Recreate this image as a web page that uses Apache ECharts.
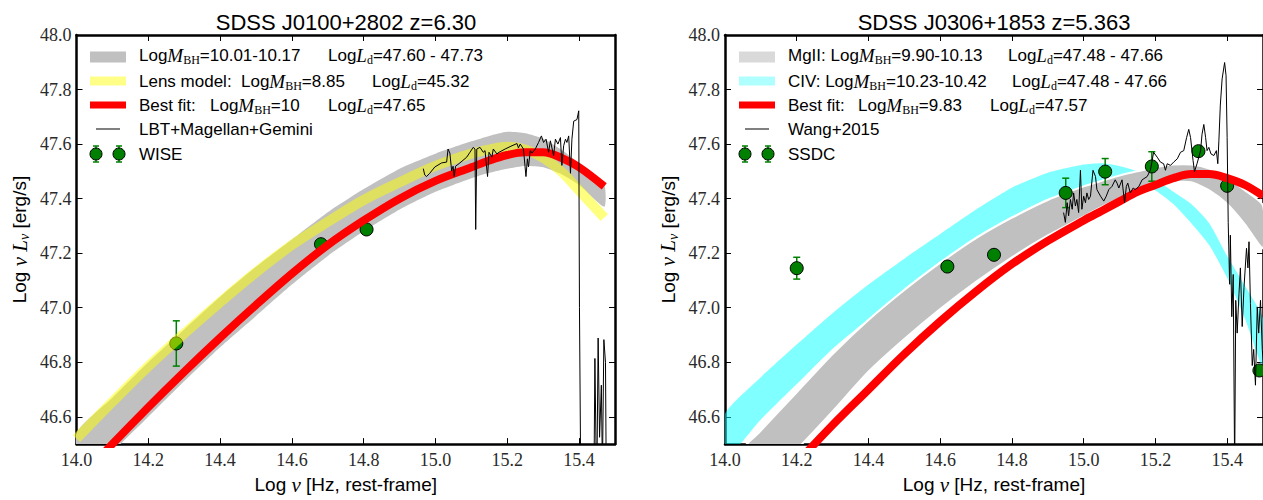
<!DOCTYPE html>
<html><head><meta charset="utf-8">
<script src="https://cdn.jsdelivr.net/npm/echarts@6/dist/echarts.min.js"></script>
<style>html,body{margin:0;padding:0;background:#fff}#c{width:1263px;height:500px}</style>
</head><body><div id="c"></div>
<script>
// ---------- tick labels ----------
const xTicks = [14.0, 14.2, 14.4, 14.6, 14.8, 15.0, 15.2, 15.4];
const yTicks = [46.6, 46.8, 47.0, 47.2, 47.4, 47.6, 47.8, 48.0];

// ---------- left panel: SDSS J0100+2802 ----------
const LX        = [14.0, 14.1, 14.2, 14.3, 14.4, 14.5, 14.6, 14.7, 14.8, 14.9, 15.0, 15.1, 15.15, 15.2, 15.25, 15.3, 15.35, 15.4, 15.47];
const L_grayTop = [46.54, 46.67, 46.80, 46.92, 47.04, 47.15, 47.25, 47.35, 47.435, 47.51, 47.565, 47.61, 47.63, 47.645, 47.64, 47.62, 47.58, 47.53, 47.45];
const L_grayBot = [46.33, 46.47, 46.60, 46.73, 46.855, 46.97, 47.085, 47.19, 47.28, 47.36, 47.425, 47.475, 47.495, 47.51, 47.52, 47.515, 47.49, 47.45, 47.37];
const L_lens    = [46.52, 46.655, 46.785, 46.905, 47.02, 47.13, 47.23, 47.315, 47.395, 47.46, 47.52, 47.565, 47.58, 47.59, 47.58, 47.55, 47.50, 47.43, 47.33];
const L_best    = [46.36, 46.50, 46.635, 46.765, 46.89, 47.01, 47.125, 47.23, 47.32, 47.40, 47.465, 47.515, 47.54, 47.56, 47.57, 47.57, 47.55, 47.515, 47.445];

const L_specX = [14.966,14.970,14.975,14.984,14.998,15.017,15.031,15.035,15.040,15.045,15.049,15.052,15.056,15.068,15.087,15.096,15.105,15.110,15.112,15.115,15.124,15.133,15.138,15.145,15.149,15.157,15.161,15.171,15.177,15.194,15.213,15.227,15.231,15.236,15.245,15.252,15.256,15.259,15.264,15.269,15.278,15.287,15.295,15.301,15.308,15.315,15.320,15.329,15.334,15.341,15.348,15.352,15.357,15.362,15.366,15.371,15.376,15.380,15.385,15.394,15.399,15.401,15.405,15.441,15.444,15.449,15.453,15.457,15.462,15.465,15.469,15.4735,15.476];
const L_specY = [47.510,47.487,47.481,47.493,47.516,47.531,47.534,47.582,47.567,47.502,47.519,47.481,47.519,47.531,47.552,47.570,47.588,47.582,47.287,47.582,47.588,47.570,47.576,47.481,47.570,47.552,47.582,47.564,47.570,47.582,47.594,47.602,47.586,47.600,47.582,47.481,47.546,47.516,47.576,47.567,47.582,47.606,47.630,47.606,47.618,47.570,47.612,47.558,47.618,47.600,47.624,47.522,47.594,47.618,47.606,47.630,47.493,47.618,47.684,47.690,47.722,47.000,46.300,46.300,46.814,46.300,46.889,46.525,46.716,46.400,46.883,46.800,46.300];

const wiseX   = [14.278, 14.681, 14.808];
const wiseY   = [46.869, 47.233, 47.287];
const wiseErr = [0.083, 0, 0];

// ---------- right panel: SDSS J0306+1853 ----------
const RX       = [14.0, 14.1, 14.2, 14.3, 14.4, 14.5, 14.6, 14.7, 14.8, 14.9, 15.0, 15.05, 15.1, 15.15, 15.2, 15.25, 15.3, 15.35, 15.4, 15.45, 15.5];
const R_civTop = [46.61, 46.745, 46.865, 46.98, 47.085, 47.18, 47.27, 47.36, 47.44, 47.495, 47.525, 47.53, 47.52, 47.50, 47.47, 47.425, 47.38, 47.31, 47.19, 47.08, 46.96];
const R_civBot = [46.445, 46.59, 46.72, 46.85, 46.96, 47.07, 47.17, 47.26, 47.335, 47.40, 47.44, 47.455, 47.46, 47.455, 47.43, 47.38, 47.31, 47.23, 47.11, 46.96, 46.78];
const R_mgTop  = [46.41, 46.55, 46.69, 46.83, 46.955, 47.065, 47.165, 47.255, 47.33, 47.395, 47.445, 47.465, 47.485, 47.50, 47.515, 47.525, 47.525, 47.51, 47.475, 47.43, 47.375];
const R_mgBot  = [46.21, 46.35, 46.48, 46.62, 46.765, 46.885, 46.995, 47.095, 47.185, 47.265, 47.335, 47.37, 47.40, 47.425, 47.445, 47.46, 47.46, 47.43, 47.38, 47.305, 47.218];
const R_best   = [46.13, 46.28, 46.43, 46.57, 46.70, 46.83, 46.95, 47.06, 47.16, 47.245, 47.32, 47.355, 47.39, 47.425, 47.45, 47.475, 47.49, 47.49, 47.475, 47.45, 47.41];

const R_specX = [14.944,14.949,14.954,14.958,14.963,14.968,14.972,14.977,14.981,14.986,14.991,14.995,15.000,15.005,15.009,15.014,15.019,15.026,15.033,15.037,15.047,15.056,15.063,15.070,15.079,15.088,15.093,15.098,15.107,15.114,15.119,15.123,15.130,15.138,15.144,15.154,15.163,15.177,15.186,15.191,15.195,15.205,15.214,15.223,15.228,15.233,15.242,15.251,15.261,15.270,15.279,15.287,15.293,15.298,15.305,15.309,15.316,15.326,15.330,15.335,15.340,15.344,15.349,15.355,15.363,15.370,15.374,15.377,15.381,15.386,15.393,15.397,15.400,15.403,15.407,15.409,15.413,15.417,15.421,15.424,15.428,15.433,15.437,15.442,15.447,15.454,15.458,15.461,15.465,15.470,15.474,15.479,15.484,15.488,15.493,15.498,15.501];
const R_specY = [47.349,47.313,47.385,47.337,47.397,47.361,47.421,47.373,47.397,47.349,47.504,47.361,47.409,47.385,47.421,47.397,47.409,47.504,47.481,47.433,47.409,47.391,47.409,47.433,47.445,47.469,47.457,47.439,47.469,47.385,47.445,47.457,47.421,47.439,47.433,47.445,47.469,47.481,47.504,47.540,47.570,47.552,47.534,47.528,47.504,47.528,47.522,47.534,47.546,47.570,47.576,47.624,47.654,47.624,47.540,47.499,47.528,47.576,47.636,47.672,47.624,47.576,47.588,47.564,47.558,47.576,47.528,47.612,47.743,47.839,47.899,47.851,47.624,47.313,47.086,47.266,46.967,47.122,46.400,47.027,46.907,47.051,47.146,46.931,47.074,47.218,47.146,47.242,47.015,46.788,46.847,46.716,47.003,46.907,47.027,46.847,46.788];

const ssdcX   = [14.20, 14.62, 14.75, 14.95, 15.06, 15.19, 15.32, 15.40, 15.49];
const ssdcY   = [47.145, 47.151, 47.194, 47.421, 47.499, 47.518, 47.574, 47.447, 46.770];
const ssdcErr = [0.040, 0, 0, 0.054, 0.048, 0.054, 0, 0, 0];

// ---------- helpers ----------
const zip = (xs, ys) => xs.map((x, i) => [x, ys[i]]);
const SANS = '"Liberation Sans", Arial, Helvetica, sans-serif';
const SERIF = '"Liberation Serif", "Times New Roman", serif';

const axisRich = {
  n: {fontFamily: SANS, fontSize: 19, color: '#000'},
  i: {fontFamily: SERIF, fontStyle: 'italic', fontSize: 21, color: '#000'},
  s: {fontFamily: SERIF, fontStyle: 'italic', fontSize: 14, color: '#000', padding: [10, 0, 0, 0]}
};
const legRich = {
  n: {fontFamily: SANS, fontSize: 17, color: '#000'},
  i: {fontFamily: SERIF, fontStyle: 'italic', fontSize: 19, color: '#000'},
  s: {fontFamily: SERIF, fontSize: 12, color: '#000', padding: [9, 0, 0, 0]}
};

const xName = '{n|Log\u00a0}{i|\u03bd}{n|\u00a0[Hz, rest-frame]}';
const yName = '{n|Log\u00a0}{i|\u03bd}{n|\u00a0}{i|L}{s|\u03bd}{n|\u00a0[erg/s]}';

function xAxisCfg(grid, top) {
  return {
    gridIndex: grid, type: 'value', min: 14, max: 15.5, position: top ? 'top' : 'bottom',
    axisLine: {show: true, onZero: false, lineStyle: {color: '#000', width: 2.5}},
    axisTick: {show: true, inside: true, length: 6, customValues: xTicks, lineStyle: {color: '#000', width: 1}},
    axisLabel: {show: !top, customValues: xTicks, formatter: v => Number(v).toFixed(1), margin: 7,
      fontFamily: SERIF, fontSize: 18, color: '#2a2a2a'},
    splitLine: {show: false},
    name: top ? '' : xName, nameLocation: 'middle', nameGap: 25,
    nameTextStyle: {rich: axisRich}
  };
}
function yAxisCfg(grid, right) {
  return {
    gridIndex: grid, type: 'value', min: 46.5, max: 48.0, position: right ? 'right' : 'left',
    axisLine: {show: true, onZero: false, lineStyle: {color: '#000', width: 2.5}},
    axisTick: {show: true, inside: true, length: 6, customValues: yTicks, lineStyle: {color: '#000', width: 1}},
    axisLabel: {show: !right, customValues: yTicks, formatter: v => Number(v).toFixed(1), margin: 5,
      fontFamily: SERIF, fontSize: 18, color: '#2a2a2a'},
    splitLine: {show: false},
    name: right ? '' : yName, nameLocation: 'middle', nameGap: 45, nameRotate: 90,
    nameTextStyle: {rich: axisRich}
  };
}

// filled band between two curves, drawn as one polygon through the axis scales
function band(name, xi, xs, top, bot, color, edge) {
  return {
    name, type: 'custom', xAxisIndex: xi, yAxisIndex: xi, clip: true, silent: true,
    data: xs.map((x, i) => [x, top[i], bot[i]]),
    encode: {x: 0, y: [1, 2]},
    renderItem: (params, api) => {
      if (params.dataIndexInside !== 0) return null;
      const n = params.dataInsideLength;
      const up = [], lo = [];
      for (let k = 0; k < n; k++) {
        const x = api.value(0, k);
        up.push(api.coord([x, api.value(1, k)]));
        lo.push(api.coord([x, api.value(2, k)]));
      }
      const pts = up.concat(lo.reverse());
      return {type: 'polygon', shape: {points: pts, smooth: 0.2},
        style: {fill: color, stroke: edge ? '#fff' : null, lineWidth: edge ? 2 : 0}};
    }
  };
}
function curve(name, xi, xs, ys, color, width) {
  return {name, type: 'line', xAxisIndex: xi, yAxisIndex: xi, data: zip(xs, ys), symbol: 'none',
    smooth: 0.35, lineStyle: {color, width, cap: 'butt'}, silent: true};
}
function spectrum(name, xi, xs, ys) {
  return {name, type: 'line', xAxisIndex: xi, yAxisIndex: xi, data: zip(xs, ys), symbol: 'none',
    lineStyle: {color: '#000', width: 1}, silent: true};
}
function errBars(name, xi, xs, ys, es) {
  return {
    name: name + ' err', type: 'custom', xAxisIndex: xi, yAxisIndex: xi,
    data: xs.map((x, i) => [x, ys[i], es[i]]), encode: {x: 0, y: 1}, silent: true,
    renderItem: (params, api) => {
      const e = api.value(2);
      if (!e) return null;
      const x = api.value(0), y = api.value(1);
      const t = api.coord([x, y + e]), b = api.coord([x, y - e]);
      const st = {stroke: '#008000', lineWidth: 1.5};
      return {type: 'group', children: [
        {type: 'line', shape: {x1: t[0], y1: t[1], x2: b[0], y2: b[1]}, style: st},
        {type: 'line', shape: {x1: t[0] - 3.5, y1: t[1], x2: t[0] + 3.5, y2: t[1]}, style: st},
        {type: 'line', shape: {x1: b[0] - 3.5, y1: b[1], x2: b[0] + 3.5, y2: b[1]}, style: st}
      ]};
    }
  };
}
function points(name, xi, xs, ys) {
  return {name, type: 'scatter', xAxisIndex: xi, yAxisIndex: xi, data: zip(xs, ys), symbol: 'circle',
    symbolSize: 13, itemStyle: {color: '#008000', borderColor: '#000', borderWidth: 1, opacity: 1}, silent: true};
}

// ---------- legend / title graphics ----------
function txt(x, y, text, rich) {
  return {type: 'text', x, y, silent: true, style: {text, rich, align: 'left', verticalAlign: 'middle'}};
}
function title(x, text) {
  return {type: 'text', x, y: 22, silent: true,
    style: {text, fontFamily: SANS, fontSize: 22, fill: '#000', align: 'center', verticalAlign: 'middle'}};
}
function legendBlock(x0, iconX, colors, rows, col2, markerLabel, lineLabel) {
  const g = [];
  const ys = [55, 81, 105, 129, 154];
  const hs = [11, 9, 7];
  for (let k = 0; k < 3; k++) {
    g.push({type: 'rect', silent: true, shape: {x: iconX, y: ys[k] - hs[k] / 2 + (k === 0 ? 2 : 0), width: 36, height: hs[k]},
      style: {fill: colors[k]}});
  }
  g.push({type: 'line', silent: true, shape: {x1: iconX + 6, y1: ys[3], x2: iconX + 30, y2: ys[3]}, style: {stroke: '#000', lineWidth: 1}});
  [iconX + 6, iconX + 29].forEach(cx => {
    const st = {stroke: '#008000', lineWidth: 1.5};
    g.push({type: 'line', silent: true, shape: {x1: cx, y1: ys[4] - 8, x2: cx, y2: ys[4] + 8}, style: st});
    g.push({type: 'line', silent: true, shape: {x1: cx - 3, y1: ys[4] - 8, x2: cx + 3, y2: ys[4] - 8}, style: st});
    g.push({type: 'line', silent: true, shape: {x1: cx - 3, y1: ys[4] + 8, x2: cx + 3, y2: ys[4] + 8}, style: st});
    g.push({type: 'circle', silent: true, shape: {cx, cy: ys[4], r: 6}, style: {fill: '#008000', stroke: '#000', lineWidth: 1}});
  });
  rows.forEach((r, k) => r.forEach(([x, t]) => g.push(txt(x, ys[k], t, legRich))));
  col2.forEach(([k, x, t]) => g.push(txt(x, ys[k], t, legRich)));
  g.push(txt(x0, ys[3], '{n|' + lineLabel + '}', legRich));
  g.push(txt(x0, ys[4], '{n|' + markerLabel + '}', legRich));
  return g;
}

const graphics = [].concat(
  [title(346, 'SDSS J0100+2802 z=6.30'), title(994, 'SDSS J0306+1853 z=5.363')],
  legendBlock(139, 90, ['#c0c0c0', '#ffff88', '#ff0000'],
    [[[139, '{n|Log}{i|M}{s|BH}{n|=10.01-10.17}']],
     [[139, '{n|Lens model:}'], [241, '{n|Log}{i|M}{s|BH}{n|=8.85}']],
     [[139, '{n|Best fit:}'], [210, '{n|Log}{i|M}{s|BH}{n|=10}']]],
    [[0, 328, '{n|Log}{i|L}{s|d}{n|=47.60 - 47.73}'],
     [1, 372, '{n|Log}{i|L}{s|d}{n|=45.32}'],
     [2, 328, '{n|Log}{i|L}{s|d}{n|=47.65}']],
    'WISE', 'LBT+Magellan+Gemini'),
  legendBlock(788, 739, ['#d9d9d9', '#b0ffff', '#ff0000'],
    [[[788, '{n|MgII: Log}{i|M}{s|BH}{n|=9.90-10.13}']],
     [[788, '{n|CIV: Log}{i|M}{s|BH}{n|=10.23-10.42}']],
     [[788, '{n|Best fit:}'], [858, '{n|Log}{i|M}{s|BH}{n|=9.83}']]],
    [[0, 1008, '{n|Log}{i|L}{s|d}{n|=47.48 - 47.66}'],
     [1, 1012, '{n|Log}{i|L}{s|d}{n|=47.48 - 47.66}'],
     [2, 990, '{n|Log}{i|L}{s|d}{n|=47.57}']],
    'SSDC', 'Wang+2015')
);

const chart = echarts.init(document.getElementById('c'), null, {renderer: 'svg'});
chart.setOption({
  animation: false,
  backgroundColor: '#fff',
  grid: [
    {left: 76.5, top: 35, width: 538.5, height: 418.6},
    {left: 725, top: 35, width: 539, height: 418.6}
  ],
  xAxis: [xAxisCfg(0, false), xAxisCfg(0, true), xAxisCfg(1, false), xAxisCfg(1, true)],
  yAxis: [yAxisCfg(0, false), yAxisCfg(0, true), yAxisCfg(1, false), yAxisCfg(1, true)],
  series: [
    band('LogMBH 10.01-10.17', 0, LX, L_grayTop, L_grayBot, '#c0c0c0', false),
    curve('Lens model', 0, LX, L_lens, 'rgba(255,255,0,0.5)', 10),
    curve('Best fit', 0, LX, L_best, '#ff0000', 8),
    spectrum('LBT+Magellan+Gemini', 0, L_specX, L_specY),
    errBars('WISE', 0, wiseX, wiseY, wiseErr),
    points('WISE', 0, wiseX, wiseY),
    band('CIV', 2, RX, R_civTop, R_civBot, 'rgba(0,255,255,0.5)', false),
    band('MgII', 2, RX, R_mgTop, R_mgBot, '#c0c0c0', true),
    curve('Best fit R', 2, RX, R_best, '#ff0000', 8),
    spectrum('Wang+2015', 2, R_specX, R_specY),
    errBars('SSDC', 2, ssdcX, ssdcY, ssdcErr),
    points('SSDC', 2, ssdcX, ssdcY)
  ],
  graphic: graphics
});
</script></body></html>
